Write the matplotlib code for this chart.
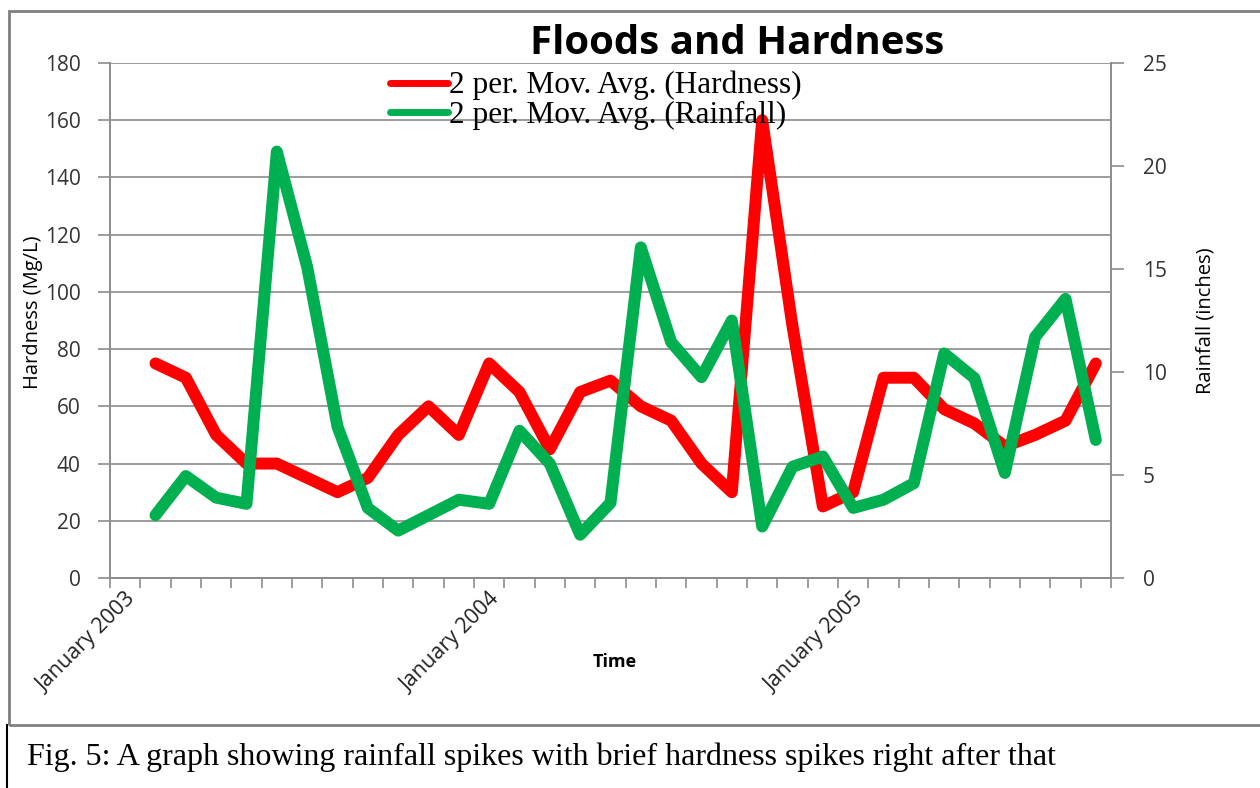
import matplotlib
matplotlib.use("Agg")
import matplotlib.pyplot as plt
from matplotlib.lines import Line2D
from matplotlib.patches import Rectangle

# month offsets from January 2003 (moving average starts at the 2nd month)
months = list(range(1, 33))
hardness = [75, 70, 50, 40, 40, 35, 30, 35, 50, 60, 50, 75,
            65, 45, 65, 69, 60, 55, 40, 30, 160, 88, 25, 30,
            70, 70, 59, 54, 46, 50, 55, 75]
rainfall = [3.05, 4.95, 3.9, 3.6, 20.7, 15.1, 7.35, 3.4, 2.3, 3.05, 3.8, 3.6,
            7.15, 5.55, 2.1, 3.65, 16.05, 11.45, 9.75, 12.5, 2.5, 5.4, 5.9, 3.4,
            3.8, 4.6, 10.9, 9.7, 5.1, 11.7, 13.55, 6.7]
year_ticks = [0, 12, 24]
year_labels = ["January 2003", "January 2004", "January 2005"]

RED = "#ff0000"
GREEN = "#00b050"
GRID = "#8c8c8c"

fig = plt.figure(figsize=(12.6, 7.88), dpi=100)
ax = fig.add_axes([110 / 1260, 1 - 578 / 788, 1001 / 1260, 515 / 788])
ax2 = ax.twinx()

ax.plot(months, hardness, color=RED, lw=8.6,
        solid_capstyle="round", solid_joinstyle="round")
ax2.plot(months, rainfall, color=GREEN, lw=8.6,
         solid_capstyle="round", solid_joinstyle="round")

ax.set_xlim(-0.5, 32.5)
ax.set_ylim(0, 180)
ax2.set_ylim(0, 25)
ax.set_yticks(range(0, 181, 20))
ax2.set_yticks(range(0, 26, 5))
ax.yaxis.grid(True, color=GRID, lw=1.2)
ax.set_axisbelow(True)

ax.set_xticks(year_ticks)
ax.set_xticklabels(year_labels, rotation=45, ha="right", va="top",
                   rotation_mode="anchor", fontsize=15.5, family="Open Sans",
                   color="#222222")
ax.set_xticks([k - 0.5 for k in range(0, 34)], minor=True)
ax.tick_params(axis="x", which="major", length=0, pad=8)
ax.tick_params(axis="x", which="minor", length=7, color=GRID, width=1.2)
ax.tick_params(axis="y", length=9, color=GRID, width=1.2, pad=12,
               labelsize=15, labelcolor="#333333")
ax2.tick_params(axis="y", length=9, color=GRID, width=1.2, pad=14,
                labelsize=15, labelcolor="#333333")
for a in (ax, ax2):
    for lab in a.get_yticklabels():
        lab.set_family("Open Sans")
    a.spines["top"].set_visible(False)
    for s in ("left", "right", "bottom"):
        a.spines[s].set_color(GRID)
        a.spines[s].set_linewidth(1.2)

fig.text(737 / 1260, 1 - 43 / 788, "Floods and Hardness", ha="center", va="center",
         fontsize=29, fontweight="bold", family="Open Sans")
fig.text(33 / 1260, 1 - 312 / 788, "Hardness (Mg/L)", rotation=90, ha="center",
         va="center", fontsize=14.5, fontweight="medium", family="Open Sans")
fig.text(1205 / 1260, 1 - 321 / 788, "Rainfall (inches)", rotation=90, ha="center",
         va="center", fontsize=14.5, fontweight="medium", family="Open Sans")
fig.text(615 / 1260, 1 - 662 / 788, "Time", ha="center", va="center",
         fontsize=13, fontweight="bold", family="Open Sans")

handles = [Line2D([], [], color=RED, lw=5, solid_capstyle="round"),
           Line2D([], [], color=GREEN, lw=5, solid_capstyle="round")]
fig.legend(handles, ["2 per. Mov. Avg. (Hardness)", "2 per. Mov. Avg. (Rainfall)"],
           loc="upper left", bbox_to_anchor=(390 / 1260, 1 - 71 / 788),
           frameon=False, handlelength=1.85, handletextpad=0.05,
           labelspacing=0.0, borderpad=0, borderaxespad=0,
           prop={"family": "Liberation Serif", "size": 22.5})

# outer chart frame and caption box
fig.patches.append(Rectangle((9 / 1260, 1 - 725 / 788), 1.0, (725 - 11) / 788,
                             transform=fig.transFigure, fill=False,
                             edgecolor="#808080", lw=2))
fig.add_artist(Line2D([7 / 1260, 7 / 1260], [0, 1 - 725 / 788],
                      transform=fig.transFigure, color="black", lw=1.5))
fig.text(27 / 1260, 1 - 757 / 788,
         "Fig. 5: A graph showing rainfall spikes with brief hardness spikes right after that",
         ha="left", va="center", fontsize=23, family="Liberation Serif")

fig.savefig("out.png", dpi=100)
